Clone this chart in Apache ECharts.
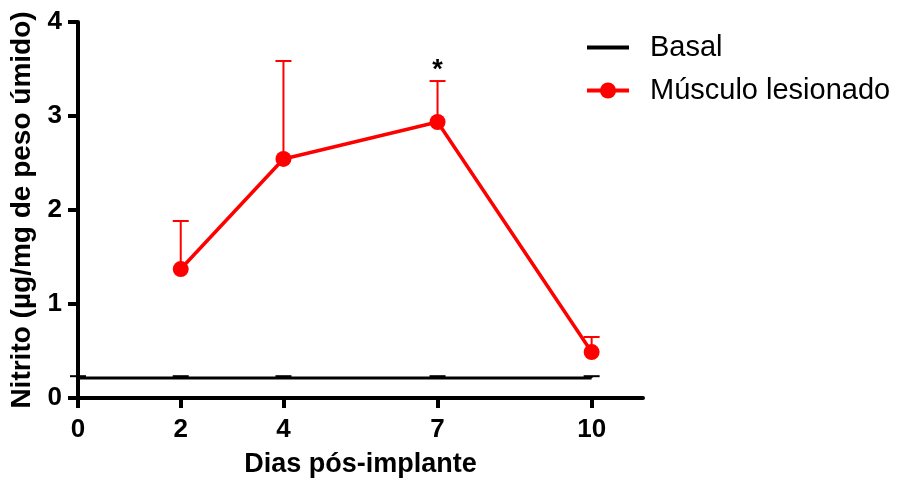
<!DOCTYPE html>
<html>
<head>
<meta charset="utf-8">
<script src="https://cdn.jsdelivr.net/npm/echarts@6/dist/echarts.min.js"></script>
<style>
html,body{margin:0;padding:0;background:#fff;}
#chart{width:907px;height:487px;}
</style>
</head>
<body>
<div id="chart"></div>
<script>
// ---- data ----
var days = [0, 2, 4, 7, 10];
var basalValues = [0.213, 0.213, 0.213, 0.213, 0.213];
var basalUpper = [0.232, 0.232, 0.232, 0.232, 0.232];
var lesionDays = [2, 4, 7, 10];
var lesionValues = [1.372, 2.543, 2.936, 0.489];
var lesionUpper = [1.883, 3.585, 3.372, 0.649];
var lesionSig = ['', '', '*', ''];
var xTicks = [0, 2, 4, 7, 10];
var yTicks = [0, 1, 2, 3, 4];
var seriesNames = ['Basal', 'Músculo lesionado'];
var xTitle = 'Dias pós-implante';
var yTitle = 'Nitrito (µg/mg de peso úmido)';

var FONT = '"Liberation Sans", Arial, sans-serif';

var basalData = days.map(function (d, i) { return [d, basalValues[i]]; });
var lesionData = lesionDays.map(function (d, i) { return [d, lesionValues[i]]; });
var basalErr = days.map(function (d, i) { return [d, basalValues[i], basalUpper[i], '']; });
var lesionErr = lesionDays.map(function (d, i) { return [d, lesionValues[i], lesionUpper[i], lesionSig[i]]; });

function errRender(color, lw) {
  return function (params, api) {
    var p0 = api.coord([api.value(0), api.value(1)]);
    var p1 = api.coord([api.value(0), api.value(2)]);
    var half = 8;
    var children = [
      { type: 'line', shape: { x1: p0[0], y1: p0[1], x2: p1[0], y2: p1[1] }, style: { stroke: color, lineWidth: lw } },
      { type: 'line', shape: { x1: p1[0] - half, y1: p1[1], x2: p1[0] + half, y2: p1[1] }, style: { stroke: color, lineWidth: lw } }
    ];
    var sig = api.value(3);
    if (sig) {
      children.push({
        type: 'text',
        style: { text: sig, x: p1[0], y: p1[1] + 3, align: 'center', verticalAlign: 'bottom',
                 font: 'bold 27px ' + FONT, fill: '#000' }
      });
    }
    return { type: 'group', children: children };
  };
}

var chart = echarts.init(document.getElementById('chart'), null, { renderer: 'canvas' });
chart.setOption({
  backgroundColor: '#fff',
  animation: false,
  grid: { left: 78, right: 264, top: 22, bottom: 89, containLabel: false },
  legend: {
    orient: 'vertical',
    left: 580,
    top: 28,
    padding: 5,
    itemGap: 14,
    itemWidth: 42,
    itemHeight: 20,
    data: [
      { name: seriesNames[0], itemStyle: { color: 'rgba(0,0,0,0)', borderColor: 'rgba(0,0,0,0)', borderWidth: 0 }, lineStyle: { color: '#000', width: 4 } },
      { name: seriesNames[1], lineStyle: { color: '#ff0000', width: 4 } }
    ],
    textStyle: { fontSize: 29, color: '#000', fontFamily: FONT, padding: [0, 0, 0, 16] }
  },
  xAxis: {
    type: 'value',
    min: 0, max: 11, interval: 1,
    name: xTitle,
    nameLocation: 'middle',
    nameGap: 53,
    nameTextStyle: { fontSize: 27, fontWeight: 'bold', color: '#000', fontFamily: FONT },
    axisLine: { show: true, lineStyle: { color: '#000', width: 4 } },
    axisTick: { show: true, length: 10, lineStyle: { color: '#000', width: 4 }, customValues: xTicks },
    axisLabel: { customValues: xTicks, margin: 19, fontSize: 26, fontWeight: 'bold', color: '#000', fontFamily: FONT },
    splitLine: { show: false }
  },
  yAxis: {
    type: 'value',
    min: 0, max: 4, interval: 1,
    name: yTitle,
    nameLocation: 'middle',
    nameGap: 39,
    nameTextStyle: { fontSize: 28, fontWeight: 'bold', color: '#000', fontFamily: FONT },
    axisLine: { show: true, lineStyle: { color: '#000', width: 4 } },
    axisTick: { show: true, length: 10, lineStyle: { color: '#000', width: 4 }, customValues: yTicks },
    axisLabel: { customValues: yTicks, margin: 16, fontSize: 26, fontWeight: 'bold', color: '#000', fontFamily: FONT },
    splitLine: { show: false }
  },
  series: [
    {
      name: seriesNames[0], type: 'line', data: basalData,
      symbol: 'none', lineStyle: { color: '#000', width: 3 }, itemStyle: { color: '#000' }, z: 3
    },
    {
      name: seriesNames[0] + ' err', type: 'custom', data: basalErr,
      renderItem: errRender('#000', 2), encode: { x: 0, y: [1, 2] }, z: 3
    },
    {
      name: seriesNames[1], type: 'line', data: lesionData,
      symbol: 'circle', symbolSize: 16,
      lineStyle: { color: '#ff0000', width: 3.5 }, itemStyle: { color: '#ff0000' }, z: 5
    },
    {
      name: seriesNames[1] + ' err', type: 'custom', data: lesionErr,
      renderItem: errRender('#ff0000', 2), encode: { x: 0, y: [1, 2] }, z: 4
    }
  ]
});
</script>
</body>
</html>
